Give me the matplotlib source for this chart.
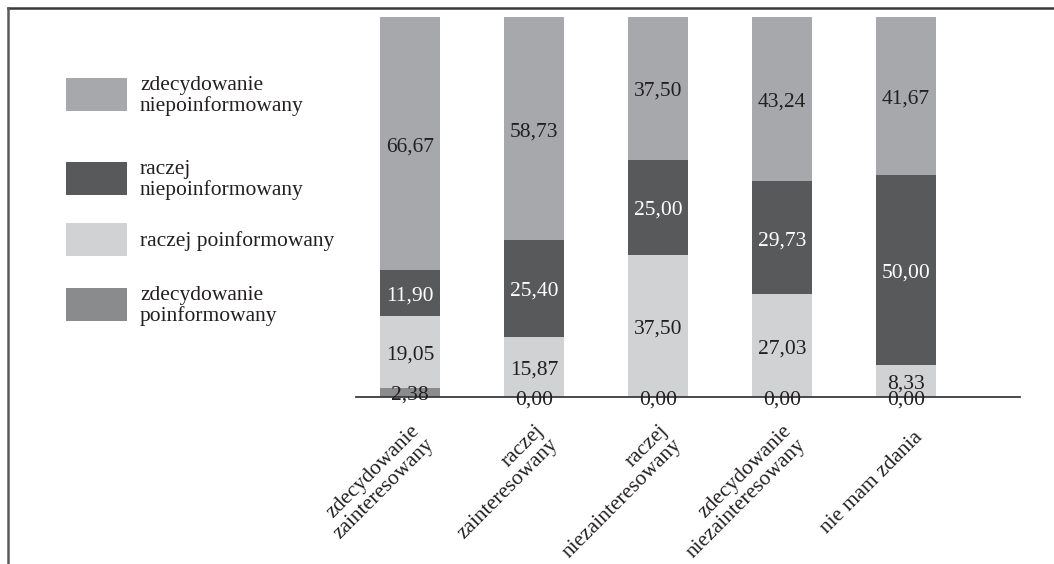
import matplotlib

matplotlib.use("Agg")

import matplotlib.pyplot as plt
from matplotlib.lines import Line2D
from matplotlib.patches import Rectangle
from matplotlib.transforms import ScaledTranslation

plt.rcParams["font.family"] = ["Liberation Serif", "DejaVu Serif"]

categories = [
    "zdecydowanie\nzainteresowany",
    "raczej\nzainteresowany",
    "raczej\nniezainteresowany",
    "zdecydowanie\nniezainteresowany",
    "nie mam zdania",
]

# stacked from the bottom up
series_names = [
    "zdecydowanie\npoinformowany",
    "raczej poinformowany",
    "raczej\nniepoinformowany",
    "zdecydowanie\nniepoinformowany",
]
zdec_poinf = [2.38, 0.00, 0.00, 0.00, 0.00]
racz_poinf = [19.05, 15.87, 37.50, 27.03, 8.33]
racz_niepoinf = [11.90, 25.40, 25.00, 29.73, 50.00]
zdec_niepoinf = [66.67, 58.73, 37.50, 43.24, 41.67]

series = [zdec_poinf, racz_poinf, racz_niepoinf, zdec_niepoinf]
colors = ["#8a8b8d", "#d1d2d4", "#58595b", "#a7a8ab"]
label_colors = ["#231f20", "#231f20", "#ffffff", "#231f20"]

W, H = 1054, 564
fig = plt.figure(figsize=(W / 100, H / 100), dpi=100)
fig.patch.set_facecolor("white")

# plot area in pixels: x 356..1020, y 17..397
ax = fig.add_axes([356 / W, 1 - 397 / H, (1020 - 356) / W, (397 - 17) / H])
ax.set_xlim(-0.435, 4.919)
ax.set_ylim(0, 100)

xs = list(range(len(categories)))
bottoms = [0.0] * len(categories)
nudge = ax.transData + ScaledTranslation(0, -3 / 100, fig.dpi_scale_trans)
for values, color, tcolor in zip(series, colors, label_colors):
    ax.bar(xs, values, width=0.49, bottom=bottoms, color=color, linewidth=0, zorder=2)
    for x, b, v in zip(xs, bottoms, values):
        ax.text(x, b + v / 2, f"{v:.2f}".replace(".", ","), ha="center", va="center",
                fontsize=15.5, color=tcolor, zorder=4, transform=nudge)
    bottoms = [b + v for b, v in zip(bottoms, values)]

for side in ["top", "right", "left"]:
    ax.spines[side].set_visible(False)
ax.spines["bottom"].set_color("#3c3c3c")
ax.spines["bottom"].set_linewidth(1.3)
ax.spines["bottom"].set_zorder(3)
ax.set_yticks([])
ax.set_xticks(xs)
ax.tick_params(axis="x", length=0)
ax.set_xticklabels([])

# rotated category labels, lines right-aligned
offset = ScaledTranslation(14 / 100, -38 / 100, fig.dpi_scale_trans)
for x, name in zip(xs, categories):
    ax.text(x, 0, name, rotation=45, rotation_mode="anchor", ha="right", va="center",
            multialignment="right", linespacing=1.1, fontsize=15.5, color="#231f20",
            transform=ax.transData + offset, clip_on=False)

# legend, top entry first
legend_tops = [78, 162, 223, 288]
for top, name, color in zip(legend_tops, series_names[::-1], colors[::-1]):
    fig.add_artist(Rectangle((66 / W, 1 - (top + 33) / H), 61 / W, 33 / H,
                             transform=fig.transFigure, facecolor=color, linewidth=0))
    fig.text(140 / W, 1 - (top + 18) / H, name, ha="left", va="center",
             linespacing=1.1, fontsize=15.5, color="#231f20")

# outer frame (top and left edges)
fig.add_artist(Line2D([8 / W, 1], [1 - 8 / H, 1 - 8 / H], transform=fig.transFigure,
                      color="#3a3a3a", linewidth=1.8))
fig.add_artist(Line2D([8 / W, 8 / W], [0, 1 - 8 / H], transform=fig.transFigure,
                      color="#5a5a5a", linewidth=1.8))

fig.savefig("out.png", dpi=100, facecolor=fig.get_facecolor())
